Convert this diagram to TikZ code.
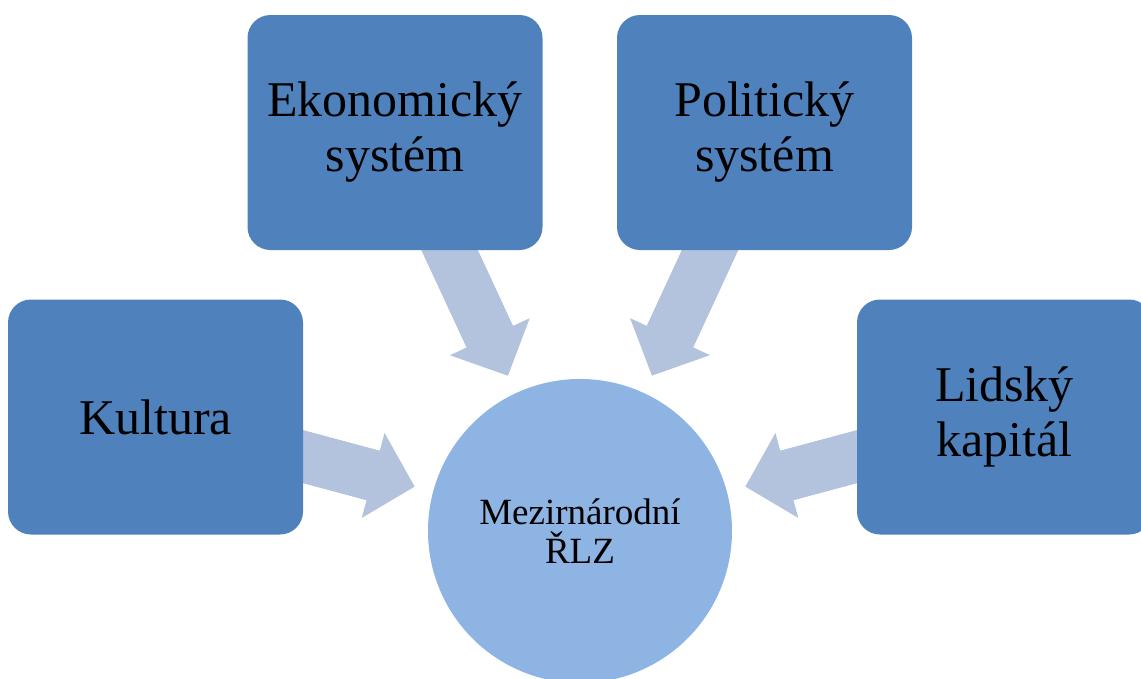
\documentclass[tikz,border=0pt]{standalone}
\usepackage{fontspec}
\setmainfont{Liberation Serif}
\usetikzlibrary{arrows.meta}
\pgfdeclarelayer{background}
\pgfsetlayers{background,main}

\definecolor{boxblue}{HTML}{4F81BD}
\definecolor{hubblue}{HTML}{8EB4E3}
\definecolor{arrowblue}{HTML}{B3C3DE}

\tikzset{
  factor/.style={fill=boxblue, draw=none, rounded corners=23pt,
    minimum width=295pt, minimum height=235pt, inner sep=0pt,
    align=center, font=\fontsize{50pt}{55pt}\selectfont, text=black},
  hub/.style={circle, fill=hubblue, draw=none, minimum size=304pt,
    inner sep=0pt, align=center, font=\fontsize{37pt}{39pt}\selectfont,
    text=black},
  % wide shaft plus a filled head; the preaction runs the shaft a little
  % into the head so no seam shows between them
  influence/.style={draw=arrowblue, line width=51pt, shorten >=19pt,
    preaction={draw=arrowblue, line width=51pt, arrows=-, shorten >=52pt},
    -{Triangle[length=43pt 0, width=88pt 0, line width=0pt, fill=arrowblue]}}
}

\begin{document}
\begin{tikzpicture}[x=1pt, y=-1pt]
  \useasboundingbox (0,0) rectangle (1141,678);

  \node[hub] (rlz) at (580,531) {Mezirnárodní\\ŘLZ};

  \node[factor] (eko) at (395,132.5) {Ekonomický\\systém};
  \node[factor] (pol) at (764.5,132.5) {Politický\\systém};
  \node[factor] (kul) at (155.5,417) {Kultura};
  \node[factor] (lid) at (1004.5,417) {Lidský\\kapitál};

  % block arrows run behind the boxes, from each box toward the hub
  \begin{pgfonlayer}{background}
    \draw[influence] (eko.center) -- (rlz);
    \draw[influence] (pol.center) -- (rlz);
    \draw[influence] (kul.center) -- (rlz);
    \draw[influence] (lid.center) -- (rlz);
  \end{pgfonlayer}
\end{tikzpicture}
\end{document}
